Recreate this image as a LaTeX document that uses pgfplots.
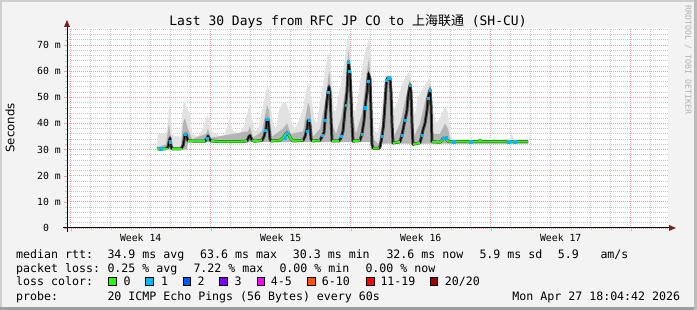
\documentclass[border=0pt]{standalone}
\usepackage{pgfplots}
\pgfplotsset{compat=1.18}
\usepackage{pgfplotstable}
\usepackage{fontspec}
\setmainfont{DejaVu Sans Mono}
\newfontfamily\dvs{DejaVu Sans}
\newfontfamily\cjk{Noto Sans CJK SC}
\definecolor{bgc}{HTML}{F3F3F3}
\definecolor{shadeA}{HTML}{CFCFCF}
\definecolor{shadeB}{HTML}{9E9E9E}
\definecolor{mgrid}{HTML}{F0A0A0}
\definecolor{ngrid}{HTML}{C8C8C8}
\definecolor{smokeA}{HTML}{E2E2E2}
\definecolor{smokeB}{HTML}{B4B4B4}
\definecolor{smokeC}{HTML}{484848}
\definecolor{arrowred}{HTML}{7F1F1F}
\definecolor{lzero}{HTML}{26FF00}
\definecolor{lone}{HTML}{00B8FF}
\definecolor{ltwo}{HTML}{0059FF}
\definecolor{lthree}{HTML}{8000FF}
\definecolor{lfour}{HTML}{FF00FF}
\definecolor{lsix}{HTML}{FF5500}
\definecolor{leleven}{HTML}{FF0000}
\definecolor{ltwenty}{HTML}{990000}
\newcommand\fsLeg{\fontsize{11.6}{12}\selectfont}
\newcommand\fsAx{\fontsize{9.8}{10}\selectfont}
\newcommand\fsTitle{\fontsize{13}{14}\selectfont}

% median rtt (days, ms)
\pgfplotstableread{
d ms
4.315 30.3
4.765 30.3
4.865 31.0
4.965 34.4
5.015 31.5
5.065 30.3
5.515 30.3
5.615 31.5
5.665 33.5
5.715 35.8
5.765 36.0
5.815 34.5
5.865 33.3
6.715 33.2
6.815 34.2
6.865 35.2
6.915 34.3
7.015 33.3
7.465 33.0
8.465 33.0
8.815 33.3
8.915 35.0
8.965 35.4
9.065 33.6
9.165 33.2
9.565 33.5
9.665 35.0
9.765 38.0
9.815 41.6
9.865 41.5
9.915 38.0
9.965 34.0
10.015 33.3
10.465 33.5
10.615 34.5
10.715 35.5
10.815 36.5
10.915 35.5
11.015 34.0
11.115 33.3
11.615 33.5
11.715 35.0
11.815 38.0
11.865 41.0
11.915 41.3
11.965 39.0
12.015 34.0
12.065 33.3
12.465 33.5
12.565 35.0
12.665 36.5
12.715 41.0
12.765 45.0
12.815 49.0
12.865 52.0
12.915 54.0
12.965 52.0
13.015 42.0
13.065 33.3
13.415 33.3
13.515 34.5
13.615 37.0
13.715 45.0
13.815 52.0
13.890 63.6
13.965 59.0
14.015 50.0
14.065 40.0
14.115 33.2
14.465 33.5
14.565 36.0
14.665 41.0
14.715 46.0
14.815 52.0
14.890 59.0
14.965 57.0
15.015 45.0
15.065 32.0
15.115 30.5
15.415 30.5
15.465 31.0
15.565 35.0
15.640 39.0
15.715 47.5
15.790 56.5
15.865 57.5
15.965 57.5
16.015 52.0
16.065 40.0
16.115 32.5
16.465 33.0
16.565 35.6
16.615 37.5
16.715 41.3
16.815 45.0
16.865 50.0
16.965 54.7
17.015 52.0
17.065 40.0
17.115 32.0
17.465 32.6
17.565 35.6
17.615 37.5
17.715 40.0
17.815 45.0
17.865 49.6
17.965 52.8
18.015 47.0
18.065 33.0
18.465 32.8
18.565 33.5
18.615 34.4
18.715 34.2
18.765 34.5
18.815 33.5
18.915 33.0
20.415 33.0
20.465 33.6
20.515 33.0
22.865 33.0
}\median

% smoke band: maximum of the 20 pings (forward), then minimum (backward)
\pgfplotstableread{
d ms
4.315 31
4.365 36
4.765 36
4.865 40
4.915 47
5.015 44
5.065 36
5.265 35
5.515 35
5.565 43
5.615 47
5.715 48
5.815 46
5.965 44
6.065 36
6.365 35
6.615 38
6.765 42
6.865 43
6.965 41
7.065 37
7.465 35
7.715 36
7.965 42
8.065 38
8.265 36
8.465 36
8.665 39
8.865 45
8.965 47.5
9.065 42
9.215 37
9.365 38
9.565 45
9.715 50
9.815 54.5
9.915 53
10.015 46
10.115 40
10.265 38
10.415 45
10.615 48
10.765 48
10.915 45
11.065 40
11.215 38
11.465 42
11.615 46
11.765 52
11.865 55.5
11.965 54
12.065 48
12.165 42
12.315 40
12.465 48
12.615 55
12.765 62
12.865 67
12.965 65
13.065 55
13.165 45
13.265 45
13.365 50
13.515 55
13.665 62
13.765 68
13.865 73
13.915 75
13.965 68
14.065 55
14.165 45
14.265 45
14.365 50
14.515 58
14.665 65
14.815 70
14.915 72.5
15.015 65
15.065 50
15.165 38
15.315 36
15.465 40
15.615 50
15.715 56
15.815 58.5
15.965 58.5
16.065 52
16.165 45
16.315 48
16.465 52
16.615 56
16.765 58
16.915 59.8
17.015 57
17.115 48
17.215 43
17.365 50
17.515 52
17.665 54
17.815 56
17.915 57.4
18.015 55
18.115 45
18.265 40
18.465 42
18.615 45
18.765 46.4
18.865 44
18.965 38
19.065 34
19.965 34
20.015 35
20.065 34
21.965 34
22.065 36
22.165 34
22.865 33.8
22.865 32.3
15.465 32.3
15.415 30.1
15.115 30.1
15.065 32.8
5.865 32.8
5.815 30.0
4.315 30.0
}\smokemax

% smoke band: middle of the 20 pings (forward), then minimum (backward)
\pgfplotstableread{
d ms
4.315 30.8
4.765 32
4.915 40
5.065 31
5.515 31
5.615 40
5.715 42
5.865 38
6.065 34
6.765 36
6.865 38
7.015 34.5
8.865 37
8.965 39
9.115 34.5
9.565 37
9.815 47
9.915 45
10.065 35
10.615 38
10.815 40
11.015 36
11.615 37
11.865 48
11.965 46
12.115 35
12.465 38
12.765 50
12.915 60
12.965 58
13.065 40
13.265 36
13.515 42
13.765 55
13.890 68
13.965 62
14.065 45
14.265 36
14.565 44
14.815 60
14.915 65
15.015 55
15.115 34
15.415 32
15.565 40
15.715 52
15.865 58
15.965 58
16.065 45
16.165 35
16.465 40
16.765 50
16.965 57
17.065 48
17.165 35
17.465 40
17.765 50
17.965 55
18.015 50
18.115 36
18.465 36
18.715 40
18.865 38
18.965 34
19.065 33.4
22.865 33.4
22.865 32.3
15.465 32.3
15.415 30.1
15.115 30.1
15.065 32.8
5.865 32.8
5.815 30.0
4.315 30.0
}\smokemid

% median stretches with 0 loss (green)
\pgfplotstableread{
d ms
4.315 30.3
4.865 30.3
nan nan
5.065 30.3
5.565 30.3
nan nan
5.865 33.3
6.715 33.2
nan nan
7.015 33.3
7.465 33.0
8.465 33.0
8.815 33.3
nan nan
9.065 33.6
9.165 33.2
9.565 33.5
nan nan
10.015 33.3
10.465 33.5
10.615 34.5
10.715 35.5
10.815 36.5
10.915 35.5
11.015 34.0
11.115 33.3
11.615 33.5
nan nan
12.065 33.3
12.465 33.5
nan nan
13.065 33.3
13.415 33.3
nan nan
14.115 33.2
14.465 33.5
nan nan
15.115 30.5
15.415 30.5
nan nan
16.115 32.5
16.465 33.0
nan nan
17.115 32.0
17.465 32.6
nan nan
18.065 33.0
18.465 32.8
18.565 33.5
18.615 34.4
18.715 34.2
18.765 34.5
18.815 33.5
18.915 33.0
20.415 33.0
20.465 33.6
20.515 33.0
22.865 33.0
}\greenmed

% median samples with 1/20 loss (blue)
\pgfplotstableread{
d ms
4.5 30.3
4.965 33.0
5.715 35.8
6.815 34.4
9.715 37.5
9.815 41.6
10.715 34.5
10.815 36.2
11.815 37.0
11.915 41.3
12.565 35.5
12.715 41.3
12.865 52.0
13.515 35.0
13.765 47.0
13.890 63.6
13.940 60.0
14.565 36.0
14.715 46.0
14.865 56.0
15.565 35.0
15.790 56.5
15.900 57.5
15.940 57.5
16.565 35.6
16.715 41.3
16.965 54.7
17.565 35.6
17.865 49.6
17.965 52.8
18.615 34.4
18.765 34.5
19.150 33.0
20.000 33.0
21.900 33.0
22.200 33.0
}\bluemed

\begin{document}
\begin{tikzpicture}[x=1pt,y=1pt]
\fill[bgc] (0,0) rectangle (697,310);
\fill[shadeA] (0,0) rectangle (2,310);
\fill[shadeA] (0,308) rectangle (697,310);
\fill[shadeB] (0,0) rectangle (697,3);
\fill[shadeB!70!white] (694,0) rectangle (697,310);

\begin{axis}[
  at={(67pt,82pt)}, anchor=south west,
  scale only axis, width=601pt, height=200pt,
  xmin=-0.185, xmax=29.865, ymin=0, ymax=76.5,
  axis background/.style={fill=white},
  axis line style={draw=none},
  tick pos=left,
  tick align=outside,
  major tick length=3pt, minor tick length=2pt,
  major tick style={draw=mgrid},
  minor tick style={draw=ngrid},
  xtick={0,7,14,21,28}, xticklabels={},
  minor xtick={1,2,3,4,5,6,8,9,10,11,12,13,15,16,17,18,19,20,22,23,24,25,26,27,29},
  extra x ticks={3.5,10.5,17.5,24.5},
  extra x tick labels={Week 14,Week 15,Week 16,Week 17},
  extra x tick style={grid=none, major tick length=0pt,
     xticklabel style={font=\fsAx, anchor=base, inner sep=0pt, yshift=-13.3pt}},
  ytick={0,10,20,30,40,50,60,70},
  yticklabels={0\phantom{ m},10 m,20 m,30 m,40 m,50 m,60 m,70 m},
  minor ytick={2,4,6,8,12,14,16,18,22,24,26,28,32,34,36,38,42,44,46,48,52,54,56,58,62,64,66,68,72,74,76},
  yticklabel style={font=\fsAx, anchor=east, inner sep=0pt, xshift=-3pt},
  grid=both,
  major grid style={draw=mgrid, dash pattern=on 1pt off 1pt, line width=0.75pt},
  minor grid style={draw=ngrid, dash pattern=on 1pt off 1pt, line width=0.75pt},
  unbounded coords=jump,
]
\addplot[fill=smokeA, draw=none] table[x=d,y=ms] {\smokemax} -- cycle;
\addplot[fill=smokeB, draw=none] table[x=d,y=ms] {\smokemid} -- cycle;
\addplot[smokeC, line width=3pt, line join=round] table[x=d,y=ms] {\median};
\addplot[black, line width=1pt] table[x=d,y=ms] {\median};
\addplot[lzero, line width=2pt] table[x=d,y=ms] {\greenmed};
\addplot[only marks, mark=square*, mark size=1.1pt, lone] table[x=d,y=ms] {\bluemed};
\end{axis}

% axes with arrows
\draw[black, line width=1pt] (63,82) -- (670,82);
\fill[arrowred] (669,79) -- (676,82) -- (669,85) -- cycle;
\draw[black, line width=1pt] (67,78) -- (67,284);
\fill[arrowred] (64,283) -- (67,290) -- (70,283) -- cycle;

% title and labels
\node[anchor=base, font=\fsTitle, inner sep=0pt] at (348,284.8) {Last 30 Days from RFC JP CO to {\cjk 上海联通} (SH-CU)};
\node[rotate=90, font=\dvs\fontsize{11.7}{12}\selectfont, inner sep=0pt] at (10,182) {Seconds};
\node[rotate=-90, font=\fontsize{8.3}{9}\selectfont, text=black!30, inner sep=0pt] at (688,250) {RRDTOOL / TOBI OETIKER};

% legend rows
\begin{scope}[every node/.style={anchor=base west, inner sep=0pt, font=\fsLeg}]
\node at (16,51.5) {median rtt:};
\node at (107.3,51.5) {34.9 ms avg};
\node at (200,51.5) {63.6 ms max};
\node at (292.7,51.5) {30.3 ms min};
\node at (386.3,51.5) {32.6 ms now};
\node at (479.3,51.5) {5.9 ms sd};
\node at (557.7,51.5) {5.9};
\node at (600.3,51.5) {am/s};

\node at (16,37.5) {packet loss:};
\node at (107.3,37.5) {0.25 \% avg};
\node at (193.3,37.5) {7.22 \% max};
\node at (279.3,37.5) {0.00 \% min};
\node at (365.3,37.5) {0.00 \% now};

\node at (16,24) {loss color:};
\node at (123.3,24) {0};
\node at (161,24) {1};
\node at (197.3,24) {2};
\node at (234.3,24) {3};
\node at (270.7,24) {4-5};
\node at (321.7,24) {6-10};
\node at (380.3,24) {11-19};
\node at (444.7,24) {20/20};

\node at (16,9.8) {probe:};
\node at (107.3,9.8) {20 ICMP Echo Pings (56 Bytes) every 60s};
\node[anchor=base east] at (680.3,9.8) {Mon Apr 27 18:04:42 2026};
\end{scope}
\begin{scope}[line width=0.8pt]
\filldraw[fill=lzero, draw=black] (108.6,24.2) rectangle (116.2,32.4);
\filldraw[fill=lone, draw=black] (145.6,24.2) rectangle (153.2,32.4);
\filldraw[fill=ltwo, draw=black] (183,24.2) rectangle (190.6,32.4);
\filldraw[fill=lthree, draw=black] (219.6,24.2) rectangle (227.2,32.4);
\filldraw[fill=lfour, draw=black] (257,24.2) rectangle (264.6,32.4);
\filldraw[fill=lsix, draw=black] (307.6,24.2) rectangle (315.2,32.4);
\filldraw[fill=leleven, draw=black] (366.3,24.2) rectangle (373.9,32.4);
\filldraw[fill=ltwenty, draw=black] (430,24.2) rectangle (437.6,32.4);
\end{scope}
\pgfresetboundingbox
\path[use as bounding box] (0,0) rectangle (697,310);
\end{tikzpicture}
\end{document}
